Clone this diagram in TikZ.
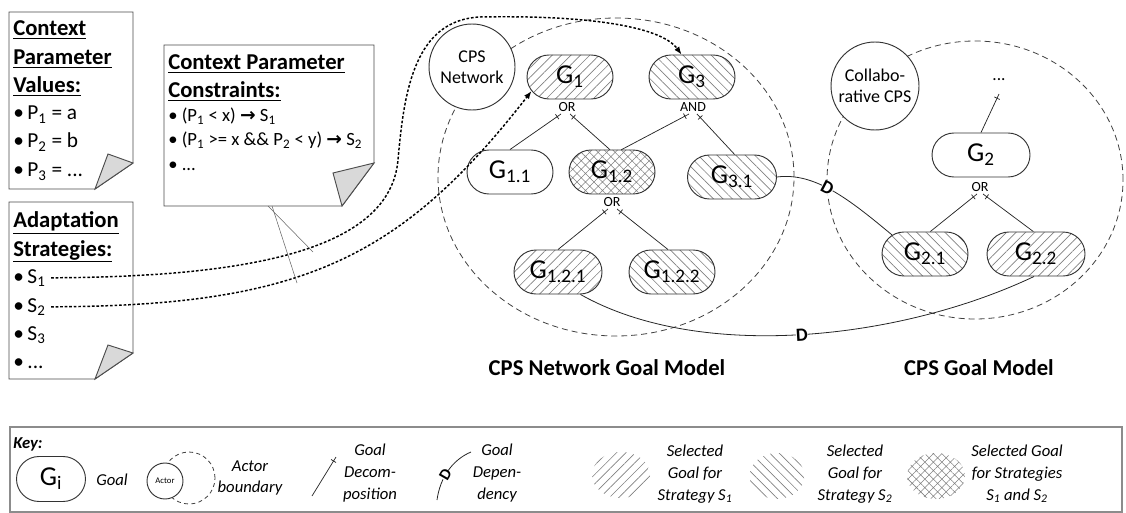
\documentclass[tikz,border=0pt]{standalone}
\usepackage{fontspec}
\setmainfont{Carlito}
\newfontfamily\arrowfam{DejaVu Sans}
\usetikzlibrary{shapes.misc, patterns.meta, decorations.markings, arrows.meta}
\newcommand\fsz[2]{\fontsize{#1}{#2}\selectfont}
\newcommand\myarr{{\arrowfam\bfseries →}}
\begin{document}
\begin{tikzpicture}[x=0.75pt, y=-0.75pt,
  goal/.style={rounded rectangle, draw=black!80, line width=0.7pt, minimum width=64.5pt, minimum height=33pt, inner sep=0pt, font=\fsz{20.5}{22}},
  selA/.style={pattern={Lines[angle=45,distance=5pt,line width=0.5pt]}, pattern color=black!50},
  selB/.style={pattern={Lines[angle=-45,distance=5pt,line width=0.5pt]}, pattern color=black!50},
  selAB/.style={pattern={Hatch[angle=45,distance=4.5pt,line width=0.4pt]}, pattern color=black!50},
  actor/.style={circle, draw=black!80, line width=0.7pt, fill=white, inner sep=0pt, align=center},
  boundary/.style={draw=black!75, line width=0.6pt, dash pattern=on 4.5pt off 3pt},
  decomp/.style={draw=black!85, line width=0.55pt, postaction={decorate}, decoration={markings, mark=at position -3.5pt with {\draw[line width=0.55pt] (0,-2.2pt) -- (0,2.2pt);}}},
  dep/.style={draw=black!85, line width=0.6pt},
  dmark/.style={sloped, fill=white, inner sep=0pt, font=\bfseries\fsz{14}{14}},
  strat/.style={line width=1.1pt, dash pattern=on 2pt off 1.4pt, -{Latex[length=6pt,width=4.5pt]}},
  note/.style={draw=black!70, line width=0.7pt, fill=white},
  fold/.style={draw=black!70, line width=0.7pt, fill=black!15},
  optext/.style={font=\fsz{10.5}{11}, inner sep=0pt},
  head/.style={anchor=base west, inner sep=0pt, font=\bfseries\fsz{17}{20}},
  pitem/.style={anchor=base west, inner sep=0pt, font=\fsz{16}{18}},
  citem/.style={anchor=base west, inner sep=0pt, font=\fsz{14}{16}},
  keytext/.style={align=center, font=\itshape\fsz{12.5}{16.25}, inner sep=0pt},
  titletext/.style={font=\bfseries\fsz{17}{20}, inner sep=0pt},
  callout/.style={draw=black!60, line width=0.4pt},
]
\useasboundingbox (0,0) rectangle (1126,513);

% ---------- notes ----------
\draw[note] (9,12) -- (133,12) -- (133,163) -- (95,189) -- (9,189) -- cycle;
\draw[fold] (133,163) -- (108,154) -- (95,189) -- cycle;
\node[head] (n1a) at (13,36) {\underline{Context}};
\node[head] (n1b) at (13,65) {\underline{Parameter}};
\node[head] (n1c) at (13,93) {\underline{Values:}};
\node[pitem] (n1d) at (13,120) {•\,P\textsubscript{1} = a};
\node[pitem] (n1e) at (13,148) {•\,P\textsubscript{2} = b};
\node[pitem] (n1f) at (13,177) {•\,P\textsubscript{3} = ...};

\draw[note] (9,202) -- (133,202) -- (133,353) -- (95,379) -- (9,379) -- cycle;
\draw[fold] (133,353) -- (108,345) -- (95,379) -- cycle;
\node[head] (n2a) at (13,228) {\underline{Adaptation}};
\node[head] (n2b) at (13,256) {\underline{Strategies:}};
\node[pitem] (s1) at (13,283) {•\,S\textsubscript{1}};
\node[pitem] (s2) at (13,312) {•\,S\textsubscript{2}};
\node[pitem] (s3) at (13,340) {•\,S\textsubscript{3}};
\node[pitem] (s4) at (13,368) {•\,...};

\draw[note] (164,45) -- (374,45) -- (374,163) -- (342,206) -- (164,206) -- cycle;
\draw[fold] (374,163) -- (333,173) -- (342,206) -- cycle;
\node[head] (n3a) at (168,70) {\underline{Context Parameter}};
\node[head] (n3b) at (168,98) {\underline{Constraints:}};
\node[citem] (c1) at (168,122) {•\ (P\textsubscript{1} < x) \myarr\ S\textsubscript{1}};
\node[citem] (c2) at (168,146) {•\ (P\textsubscript{1} >= x \&\& P\textsubscript{2} < y) \myarr\ S\textsubscript{2}};
\node[citem] (c3) at (168,171) {•\ ...};

% ---------- actor boundaries ----------
\draw[boundary] (616,177) ellipse [x radius=133.5pt, y radius=119.25pt];
\draw[boundary] (975,180) ellipse [x radius=111pt, y radius=104.25pt];
\node[actor, minimum size=64.5pt, font=\fsz{13.5}{16}] (cpsn) at (472,67) {CPS\\Network};
\node[actor, minimum size=66pt, font=\fsz{13.5}{16}] (ccps) at (875,86) {Collabo-\\rative CPS};

% ---------- goals ----------
\node[goal, selA] (g1) at (570,77) {G\textsubscript{1}};
\node[goal, selB] (g3) at (692,77) {G\textsubscript{3}};
\node[goal] (g11) at (510,172) {G\textsubscript{1.1}};
\node[goal, selAB] (g12) at (612,172) {G\textsubscript{1.2}};
\node[goal, selB, minimum width=66.75pt] (g31) at (732,177) {G\textsubscript{3.1}};
\node[goal, selA, minimum width=66pt] (g121) at (558,272) {G\textsubscript{1.2.1}};
\node[goal, selB] (g122) at (672,272) {G\textsubscript{1.2.2}};
\node[goal, minimum width=73.5pt] (g2) at (981,155) {G\textsubscript{2}};
\node[goal, selB] (g21) at (925,254) {G\textsubscript{2.1}};
\node[goal, selA, minimum width=73.5pt] (g22) at (1036,254) {G\textsubscript{2.2}};
\node[font=\fsz{13}{15}, inner sep=0pt] (dots) at (999,80) {...};

% ---------- decomposition labels ----------
\node[optext] (or1) at (567,107) {OR};
\node[optext] (and3) at (693,107) {AND};
\node[optext] (or12) at (612,202) {OR};
\node[optext] (or2) at (980,187) {OR};

\coordinate (d1a) at (561,114);
\coordinate (d1b) at (570,114);
\coordinate (d3a) at (689,114);
\coordinate (d3b) at (697,114);
\coordinate (d12a) at (608,209);
\coordinate (d12b) at (617,209);
\coordinate (d2a) at (977,194);
\coordinate (d2b) at (983,194);
\coordinate (d2t) at (999,94);

\draw[decomp] (g11.north) -- (d1a);
\draw[decomp] ([xshift=-1.5pt]g12.north) -- (d1b);
\draw[decomp] ([xshift=7pt]g12.north) -- (d3a);
\draw[decomp] ([xshift=2pt]g31.north) -- (d3b);
\draw[decomp] (g121.north) -- (d12a);
\draw[decomp] ([xshift=-3pt]g122.north) -- (d12b);
\draw[decomp] ([xshift=4pt]g21.north) -- (d2a);
\draw[decomp] ([xshift=-2pt]g22.north) -- (d2b);
\draw[decomp] (g2.north) -- (d2t);

% ---------- dependencies ----------
\draw[dep] (g31.east) .. controls (815,172) and (850,200) .. (g21.150)
  node[dmark, pos=0.45] (dep1) {D};
\draw[dep] (g121.-45) .. controls (700,362) and (900,340) .. (g22.-95)
  node[dmark, pos=0.5] (dep2) {D};

% ---------- strategy links ----------
\draw[strat] ([xshift=4pt]s1.east) .. controls (250,277) and (390,250) .. (398,160)
  .. controls (404,90) and (415,20) .. (480,17)
  .. controls (580,15) and (660,25) .. (g3.115);
\draw[strat] ([xshift=4pt]s2.east) .. controls (300,306) and (400,260) .. (g1.200);
\coordinate (cu1) at (313,252);
\coordinate (cu2) at (297,283);
\draw[callout] (268,206) -- (cu1);
\draw[callout] (272,206) -- (cu2);

% ---------- titles ----------
\node[titletext] (t1) at (607,368) {CPS Network Goal Model};
\node[titletext] (t2) at (979,368) {CPS Goal Model};

% ---------- key ----------
\draw[draw=black!45, line width=0.9pt] (10,427) rectangle (1122,512);
\node[anchor=base west, inner sep=0pt, font=\bfseries\itshape\fsz{12.5}{15}] (key) at (13,448) {Key:};
\node[goal, minimum width=51.75pt, minimum height=33.75pt] (kg) at (51,479) {G\textsubscript{i}};
\node[keytext] (kgt) at (112,480) {Goal};
\draw[boundary, dash pattern=on 3pt off 2.5pt] (189,478) circle [radius=19.5pt];
\node[actor, minimum size=27pt, font=\fsz{6.5}{7}] (ka) at (165,481) {Actor};
\node[keytext] (kat) at (250,478) {Actor\\boundary};
\coordinate (kd1) at (312,496);
\coordinate (kd2) at (336,457);
\draw[decomp] (kd1) -- (kd2);
\node[keytext] (kdt) at (370,473) {Goal\\Decom-\\position};
\coordinate (kp1) at (437,500);
\coordinate (kp2) at (471,452);
\draw[dep] (kp1) .. controls (440,478) and (452,460) .. (kp2)
  node[dmark, pos=0.42, font=\bfseries\fsz{12}{12}] (kdm) {D};
\node[keytext] (kpt) at (497,473) {Goal\\Depen-\\dency};
\path[selA] (621,475) ellipse [x radius=21.75pt, y radius=17.25pt];
\node[keytext] (k1t) at (695,474) {Selected\\Goal for\\Strategy S\textsubscript{1}};
\path[selB] (777,476) ellipse [x radius=20.5pt, y radius=17.25pt];
\node[keytext] (k2t) at (855,474) {Selected\\Goal for\\Strategy S\textsubscript{2}};
\path[selAB] (936,476) ellipse [x radius=21.75pt, y radius=17.25pt];
\node[keytext] (k3t) at (1017,474) {Selected Goal\\for Strategies\\S\textsubscript{1} and S\textsubscript{2}};
\end{tikzpicture}
\end{document}
